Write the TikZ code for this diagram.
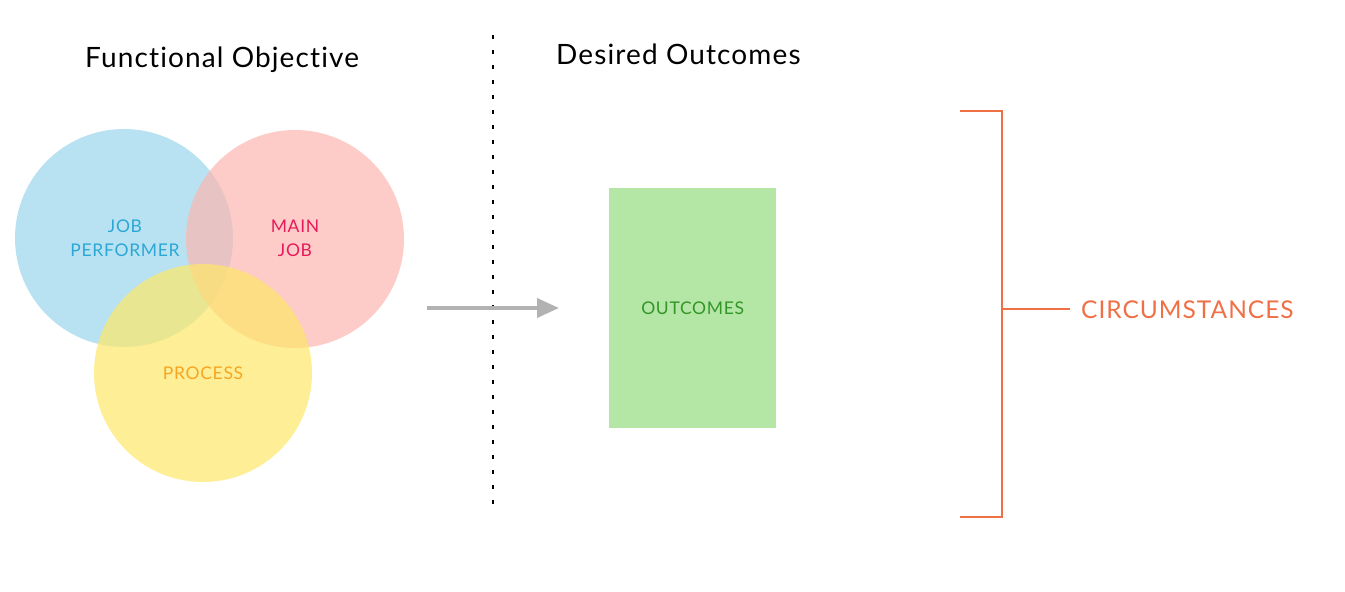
\documentclass[tikz,border=0pt]{standalone}
\usepackage{fontspec}
\setmainfont{Lato}[LetterSpace=4, Ligatures=NoCommon]
\usetikzlibrary{arrows.meta}
\definecolor{cblue}{RGB}{154,214,236}
\definecolor{cpink}{RGB}{252,182,176}
\definecolor{cyellow}{RGB}{254,231,105}
\definecolor{tblue}{RGB}{43,167,214}
\definecolor{tpink}{RGB}{232,25,90}
\definecolor{torange}{RGB}{245,166,35}
\definecolor{boxgreen}{RGB}{180,230,166}
\definecolor{tgreen}{RGB}{52,150,40}
\definecolor{circ}{RGB}{240,112,70}
\definecolor{arrowgrey}{RGB}{178,178,178}
\tikzset{
  venn/.style={circle, minimum size=218pt, inner sep=0pt, fill opacity=0.7},
  title/.style={font=\fontsize{28}{32}\selectfont, text=black, anchor=base west, inner sep=0pt},
  label/.style={font=\fontsize{17.5}{24}\selectfont, align=center, inner sep=0pt},
  brk/.style={draw=circ, line width=2pt}
}
\begin{document}
\begin{tikzpicture}[x=1pt,y=-1pt]
\useasboundingbox (0,0) rectangle (1345,592);
% Venn circles
\node[venn, fill=cblue] (perf) at (124,238) {};
\node[venn, fill=cpink] (main) at (295,239) {};
\node[venn, fill=cyellow] (proc) at (203,373) {};
\node[label, text=tblue] (perft) at (125,238) {JOB\\PERFORMER};
\node[label, text=tpink] (maint) at (295,238) {MAIN\\JOB};
\node[label, text=torange] (proct) at (203,373) {PROCESS};
% titles
\node[title] (fo) at (85,67) {Functional Objective};
\node[title] (do) at (556,64) {Desired Outcomes};
% dotted separator
\coordinate (dtop) at (493,35);
\coordinate (dbot) at (493,507);
\draw[line width=2pt, dash pattern=on 4pt off 11pt] (dtop) -- (dbot);
% arrow
\coordinate (as) at (427,308);
\coordinate (ae) at (559,308);
\draw[arrowgrey, line width=4pt, -{Triangle[length=22pt,width=19pt]}] (as) -- (ae);
% outcomes box
\node[fill=boxgreen, minimum width=167pt, minimum height=240pt, inner sep=0pt, anchor=north west] (out) at (609,188) {};
\node[label, text=tgreen] (outt) at (out.center) {OUTCOMES};
% bracket
\coordinate (b1) at (960,111);
\coordinate (b2) at (1002,111);
\coordinate (b3) at (1002,517);
\coordinate (b4) at (960,517);
\coordinate (bm) at (1002,309);
\draw[brk] (b1) -- (b2) -- (b3) -- (b4);
\node[label, text=circ, font=\fontsize{24.5}{28}\selectfont, anchor=west] (cir) at (1081,310) {CIRCUMSTANCES};
\coordinate (bt) at (1070,309);
\draw[brk] (bm) -- (bt);
\end{tikzpicture}
\end{document}
